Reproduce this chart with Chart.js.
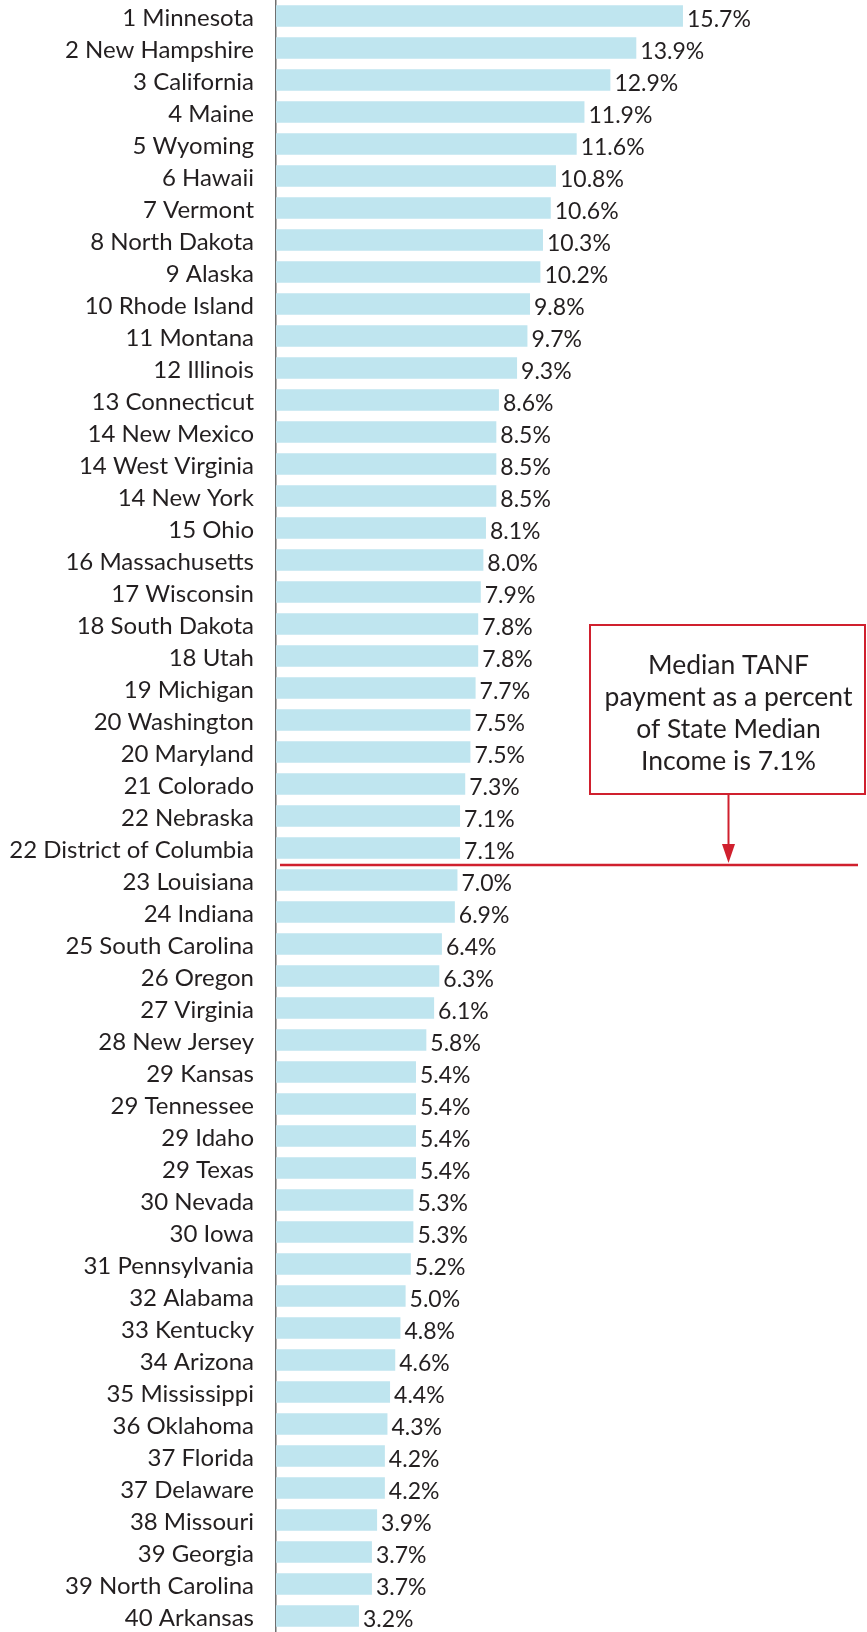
<!DOCTYPE html>
<html>
<head>
<meta charset="utf-8">
<script src="https://cdn.jsdelivr.net/npm/chart.js@4"></script>
<style>
html,body{margin:0;padding:0;background:#fff;}
canvas{display:block;}
</style>
</head>
<body>
<canvas id="c" width="867" height="1632"></canvas>
<script>
const ranks = [1,2,3,4,5,6,7,8,9,10,11,12,13,14,14,14,15,16,17,18,18,19,20,20,21,22,22,23,24,25,26,27,28,29,29,29,29,30,30,31,32,33,34,35,36,37,37,38,39,39,40];
const states = ["Minnesota","New Hampshire","California","Maine","Wyoming","Hawaii","Vermont","North Dakota","Alaska","Rhode Island","Montana","Illinois","Connecticut","New Mexico","West Virginia","New York","Ohio","Massachusetts","Wisconsin","South Dakota","Utah","Michigan","Washington","Maryland","Colorado","Nebraska","District of Columbia","Louisiana","Indiana","South Carolina","Oregon","Virginia","New Jersey","Kansas","Tennessee","Idaho","Texas","Nevada","Iowa","Pennsylvania","Alabama","Kentucky","Arizona","Mississippi","Oklahoma","Florida","Delaware","Missouri","Georgia","North Carolina","Arkansas"];
const values = [15.7,13.9,12.9,11.9,11.6,10.8,10.6,10.3,10.2,9.8,9.7,9.3,8.6,8.5,8.5,8.5,8.1,8.0,7.9,7.8,7.8,7.7,7.5,7.5,7.3,7.1,7.1,7.0,6.9,6.4,6.3,6.1,5.8,5.4,5.4,5.4,5.4,5.3,5.3,5.2,5.0,4.8,4.6,4.4,4.3,4.2,4.2,3.9,3.7,3.7,3.2];
const medianValue = 7.1;
const calloutLines = ["Median TANF","payment as a percent","of State Median","Income is " + medianValue.toFixed(1) + "%"];

const labels = states.map((s, i) => ranks[i] + " " + s);

const FONT = "Lato";
const TEXT = "#231f20";
const RED = "#d0202e";

const overlay = {
  id: "overlay",
  afterDatasetsDraw(chart) {
    const ctx = chart.ctx;
    const meta = chart.getDatasetMeta(0);
    ctx.save();
    ctx.font = "23px " + FONT;
    ctx.fillStyle = TEXT;
    ctx.textAlign = "left";
    ctx.textBaseline = "middle";
    meta.data.forEach((bar, i) => {
      ctx.fillText(values[i].toFixed(1) + "%", bar.x + 4, bar.y + 4);
    });

    // median separator line: below last row at/above median
    const ys = chart.scales.y;
    let idx = values.length - 1;
    for (let i = 0; i < values.length; i++) { if (values[i] < medianValue) { idx = i; break; } }
    const lineY = (ys.getPixelForValue(idx - 1) + ys.getPixelForValue(idx)) / 2 + 1;
    const area = chart.chartArea;
    ctx.strokeStyle = RED;
    ctx.lineWidth = 2.5;
    ctx.beginPath();
    ctx.moveTo(area.left + 4, lineY);
    ctx.lineTo(area.right - 9, lineY);
    ctx.stroke();

    // callout box
    const bx = 590, by = 625, bw = 275, bh = 169;
    ctx.fillStyle = "#fff";
    ctx.fillRect(bx, by, bw, bh);
    ctx.lineWidth = 2;
    ctx.strokeRect(bx, by, bw, bh);
    const cx = bx + bw / 2 + 1;
    ctx.fillStyle = TEXT;
    ctx.textAlign = "center";
    ctx.font = "26.5px " + FONT;
    calloutLines.forEach((t, k) => ctx.fillText(t, cx, 665 + k * 32));

    // arrow
    ctx.strokeStyle = RED;
    ctx.beginPath();
    ctx.moveTo(cx, by + bh);
    ctx.lineTo(cx, lineY - 18);
    ctx.stroke();
    ctx.fillStyle = RED;
    ctx.beginPath();
    ctx.moveTo(cx - 6.5, lineY - 21);
    ctx.lineTo(cx + 6.5, lineY - 21);
    ctx.lineTo(cx, lineY - 2);
    ctx.closePath();
    ctx.fill();
    ctx.restore();
  }
};

new Chart(document.getElementById("c"), {
  type: "bar",
  data: {
    labels: labels,
    datasets: [{
      data: values,
      backgroundColor: "#bfe5ef",
      borderWidth: 0,
      categoryPercentage: 1,
      barPercentage: 0.67
    }]
  },
  options: {
    indexAxis: "y",
    responsive: false,
    animation: false,
    devicePixelRatio: 1,
    layout: { padding: 0 },
    plugins: { legend: { display: false }, tooltip: { enabled: false } },
    scales: {
      x: { display: false, min: 0, max: 22.8 },
      y: {
        afterFit(scale) {
          scale.width = 276;
          scale.paddingTop = 0;
          scale.paddingBottom = 0;
        },
        grid: { display: false, drawTicks: false },
        border: { display: true, color: "#707070", width: 1.5 },
        ticks: {
          color: TEXT,
          font: { family: FONT, size: 24 },
          padding: 22,
          labelOffset: 2,
          autoSkip: false
        }
      }
    }
  },
  plugins: [overlay]
});
</script>
</body>
</html>
